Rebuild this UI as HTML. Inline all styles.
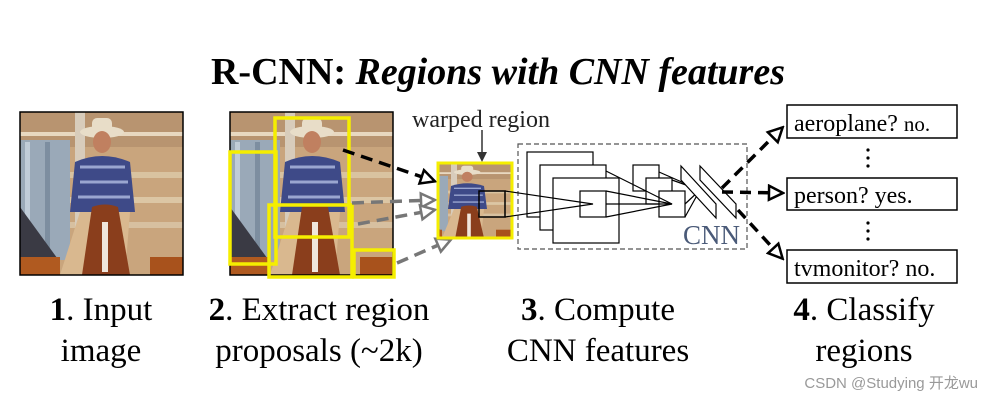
<!DOCTYPE html>
<html><head><meta charset="utf-8"><style>
html,body{margin:0;padding:0;background:#fff;}
svg{display:block;}
text{font-family:"Liberation Serif",serif;}
</style></head><body>
<svg width="983" height="401" viewBox="0 0 983 401" xmlns="http://www.w3.org/2000/svg">
<defs>
<marker id="ah" markerWidth="18" markerHeight="18" refX="15" refY="9" orient="auto" markerUnits="userSpaceOnUse" viewBox="0 0 18 18">
<path d="M2,2 L16,9 L2,16 Z" fill="#fff" stroke="#000" stroke-width="2.5"/></marker>
<marker id="ahg" markerWidth="18" markerHeight="18" refX="15" refY="9" orient="auto" markerUnits="userSpaceOnUse" viewBox="0 0 18 18">
<path d="M2,2 L16,9 L2,16 Z" fill="#fff" stroke="#777" stroke-width="2.5"/></marker>
<g id="photo">
<rect x="0" y="0" width="163" height="163" fill="#c9a57d"/>
<rect x="0" y="0" width="163" height="35" fill="#b89470"/>
<rect x="0" y="20" width="163" height="4" fill="#e8d8c0"/>
<rect x="0" y="60" width="163" height="6" fill="#d9c3a0"/>
<rect x="0" y="85" width="163" height="6" fill="#dcc6a4"/>
<rect x="0" y="110" width="163" height="6" fill="#d7c0a0"/>
<rect x="0" y="28" width="50" height="120" fill="#9aa9b8"/>
<rect x="5" y="30" width="5" height="110" fill="#c0ccd8"/>
<rect x="25" y="30" width="5" height="110" fill="#7d8ea0"/>
<rect x="55" y="0" width="10" height="120" fill="#d8ccbb"/>
<path d="M0,95 L40,150 L0,163Z" fill="#3a3a44"/>
<ellipse cx="82" cy="20" rx="22" ry="6" fill="#e8ddc8"/>
<rect x="72" y="6" width="20" height="14" rx="5" fill="#e8ddc8"/>
<ellipse cx="82" cy="30" rx="9" ry="11" fill="#c08060"/>
<path d="M55,50 Q82,38 110,50 L115,100 L50,100 Z" fill="#3e4a88"/>
<path d="M60,55 L105,55 M60,70 L108,70 M58,85 L110,85" stroke="#9aa6d0" stroke-width="3"/>
<path d="M60,100 L110,100 L105,163 L40,163 Z" fill="#d9b88f"/>
<path d="M72,95 Q85,90 98,95 L110,163 L62,163 Z" fill="#8a3e1c"/>
<rect x="82" y="110" width="6" height="50" fill="#f0e6dc"/>
<rect x="0" y="145" width="40" height="18" fill="#b05a20"/>
<rect x="130" y="145" width="33" height="18" fill="#a8521c"/>
</g>
<clipPath id="cw"><rect x="438" y="163" width="74" height="75"/></clipPath>
</defs>

<text x="498" y="84" font-size="38" text-anchor="middle" font-weight="bold" textLength="574" lengthAdjust="spacingAndGlyphs">R-CNN: <tspan font-style="italic">Regions with CNN features</tspan></text>

<use href="#photo" transform="translate(20,112)"/>
<rect x="20" y="112" width="163" height="163" fill="none" stroke="#000" stroke-width="1.5"/>
<use href="#photo" transform="translate(230,112)"/>
<rect x="230" y="112" width="163" height="163" fill="none" stroke="#000" stroke-width="1.5"/>
<g fill="none" stroke="#f5ee00" stroke-width="3.5">
<rect x="275" y="118" width="74" height="119"/>
<rect x="230" y="152" width="46" height="112"/>
<rect x="269" y="205" width="83" height="72"/>
<rect x="354" y="250" width="40" height="27"/>
</g>

<path d="M343,150 L434,181" stroke="#000" stroke-width="3.5" stroke-dasharray="12,7" fill="none" marker-end="url(#ah)"/>
<path d="M352,203 L434,200" stroke="#777" stroke-width="3.5" stroke-dasharray="12,7" fill="none" marker-end="url(#ahg)"/>
<path d="M358,224 L434,210" stroke="#777" stroke-width="3.5" stroke-dasharray="12,7" fill="none" marker-end="url(#ahg)"/>
<path d="M397,263 L450,240" stroke="#777" stroke-width="3.5" stroke-dasharray="12,7" fill="none" marker-end="url(#ahg)"/>

<text x="412" y="127" font-size="24" fill="#222">warped region</text>
<path d="M482,130 L482,158" stroke="#333" stroke-width="1.5"/>
<path d="M477,152 L482,162 L487,152 Z" fill="#333"/>
<g clip-path="url(#cw)"><use href="#photo" transform="translate(418,163) scale(0.6,0.46)"/></g>
<rect x="438" y="163" width="74" height="75" fill="none" stroke="#f5ee00" stroke-width="3"/>
<rect x="479" y="191" width="26" height="26" fill="none" stroke="#000" stroke-width="1.5"/>

<rect x="518" y="144" width="229" height="105" fill="none" stroke="#555" stroke-width="1.2" stroke-dasharray="5,3"/>
<g fill="#fff" stroke="#000" stroke-width="1.2">
<rect x="527" y="152" width="66" height="65"/>
<rect x="540" y="165" width="66" height="65"/>
<rect x="553" y="178" width="66" height="65"/>
<rect x="580" y="191" width="26" height="26"/>
<rect x="633" y="165" width="26" height="26"/>
<rect x="646" y="178" width="26" height="26"/>
<rect x="659" y="191" width="26" height="26"/>
</g>
<g stroke="#000" stroke-width="1.2" fill="none">
<path d="M505,191 L593,204 L505,217"/>
<path d="M606,171 L672,204 L606,204"/>
<path d="M606,191 L672,204 L606,217"/>
<path d="M659,172 L700,190 L672,180"/>
<path d="M685,204 L700,190 L685,217"/>
<path d="M681,166 L716,204 L716,218 L681,180 Z" fill="#fff"/>
<path d="M700,166 L736,204 L736,218 L700,180 Z" fill="#fff"/>
</g>
<text x="683" y="244" font-size="27" fill="#4a5a78">CNN</text>

<path d="M722,188 L782,128" stroke="#000" stroke-width="3.5" stroke-dasharray="11,7" fill="none" marker-end="url(#ah)"/>
<path d="M722,192 L782,193" stroke="#000" stroke-width="3.5" stroke-dasharray="11,7" fill="none" marker-end="url(#ah)"/>
<path d="M738,210 L782,258" stroke="#000" stroke-width="3.5" stroke-dasharray="11,7" fill="none" marker-end="url(#ah)"/>

<g fill="#fff" stroke="#000" stroke-width="1.5">
<rect x="787" y="105" width="170" height="33"/>
<rect x="787" y="178" width="170" height="32"/>
<rect x="787" y="250" width="170" height="33"/>
</g>
<text x="794" y="131" font-size="24">aeroplane? <tspan font-size="21">no.</tspan></text>
<text x="794" y="203" font-size="24">person? yes.</text>
<text x="794" y="276" font-size="24">tvmonitor? no.</text>
<g fill="#000"><circle cx="868" cy="150" r="1.6"/><circle cx="868" cy="158" r="1.6"/><circle cx="868" cy="166" r="1.6"/>
<circle cx="868" cy="223" r="1.6"/><circle cx="868" cy="231" r="1.6"/><circle cx="868" cy="239" r="1.6"/></g>

<g font-size="33" text-anchor="middle">
<text x="101" y="320"><tspan font-weight="bold">1</tspan>. Input</text>
<text x="101" y="361">image</text>
<text x="319" y="320"><tspan font-weight="bold">2</tspan>. Extract region</text>
<text x="319" y="361">proposals (~2k)</text>
<text x="598" y="320"><tspan font-weight="bold">3</tspan>. Compute</text>
<text x="598" y="361">CNN features</text>
<text x="864" y="320"><tspan font-weight="bold">4</tspan>. Classify</text>
<text x="864" y="361">regions</text>
</g>
<text x="978" y="388" font-size="15" text-anchor="end" fill="#999" style="font-family:'Liberation Sans','Noto Sans CJK SC',sans-serif">CSDN @Studying 开龙wu</text>
</svg>
</body></html>
